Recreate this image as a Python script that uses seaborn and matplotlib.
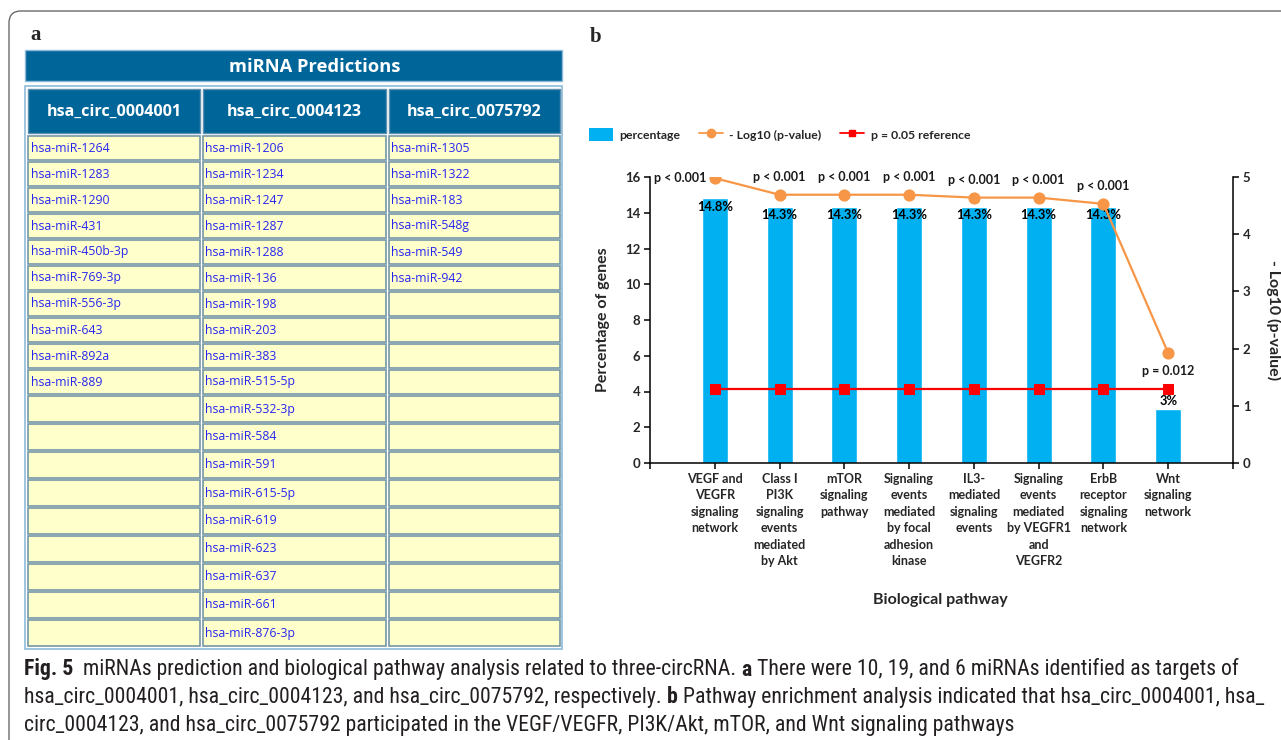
import numpy as np
import pandas as pd
import matplotlib
matplotlib.use("Agg")
import matplotlib.pyplot as plt
from matplotlib.patches import Rectangle, FancyBboxPatch, Patch
from matplotlib.lines import Line2D
import seaborn as sns

# ---------------- data ----------------
circ_ids = ["hsa_circ_0004001", "hsa_circ_0004123", "hsa_circ_0075792"]
mirna_0004001 = ["hsa-miR-1264", "hsa-miR-1283", "hsa-miR-1290", "hsa-miR-431",
                 "hsa-miR-450b-3p", "hsa-miR-769-3p", "hsa-miR-556-3p", "hsa-miR-643",
                 "hsa-miR-892a", "hsa-miR-889"]
mirna_0004123 = ["hsa-miR-1206", "hsa-miR-1234", "hsa-miR-1247", "hsa-miR-1287",
                 "hsa-miR-1288", "hsa-miR-136", "hsa-miR-198", "hsa-miR-203",
                 "hsa-miR-383", "hsa-miR-515-5p", "hsa-miR-532-3p", "hsa-miR-584",
                 "hsa-miR-591", "hsa-miR-615-5p", "hsa-miR-619", "hsa-miR-623",
                 "hsa-miR-637", "hsa-miR-661", "hsa-miR-876-3p"]
mirna_0075792 = ["hsa-miR-1305", "hsa-miR-1322", "hsa-miR-183", "hsa-miR-548g",
                 "hsa-miR-549", "hsa-miR-942"]

pathways = ["VEGF and\nVEGFR\nsignaling\nnetwork",
            "Class I\nPI3K\nsignaling\nevents\nmediated\nby Akt",
            "mTOR\nsignaling\npathway",
            "Signaling\nevents\nmediated\nby focal\nadhesion\nkinase",
            "IL3-\nmediated\nsignaling\nevents",
            "Signaling\nevents\nmediated\nby VEGFR1\nand\nVEGFR2",
            "ErbB\nreceptor\nsignaling\nnetwork",
            "Wnt\nsignaling\nnetwork"]
percentage = [14.8, 14.3, 14.3, 14.3, 14.3, 14.3, 14.3, 3]
neg_log10_p = [4.98, 4.69, 4.69, 4.69, 4.64, 4.64, 4.53, 1.92]
p_text = ["p < 0.001"] * 7 + ["p = 0.012"]
p_reference = 0.05

caption_lines = [
    [("Fig. 5", True), ("  miRNAs prediction and biological pathway analysis related to three-circRNA. ", False),
     ("a", True), (" There were 10, 19, and 6 miRNAs identified as targets of", False)],
    [("hsa_circ_0004001, hsa_circ_0004123, and hsa_circ_0075792, respectively. ", False),
     ("b", True), (" Pathway enrichment analysis indicated that hsa_circ_0004001, hsa_", False)],
    [("circ_0004123, and hsa_circ_0075792 participated in the VEGF/VEGFR, PI3K/Akt, mTOR, and Wnt signaling pathways", False)],
]

# ---------------- colours ----------------
BAR = "#00B0F0"
ORANGE = "#F79646"
RED = "#FF0000"
HEAD_BLUE = "#00669A"
CELL_FILL = "#FFFFCC"
CELL_EDGE = "#7597A5"
CELL_TEXT = "#2626F0"

sns.set_style("white")
plt.rcParams["font.family"] = ["Lato", "DejaVu Sans"]

W, H = 1281, 740
fig = plt.figure(figsize=(W / 100, H / 100), dpi=100)
fig.patch.set_facecolor("white")

# full-figure canvas in pixel units for frame, table and caption
bg = fig.add_axes([0, 0, 1, 1])
bg.set_xlim(0, W)
bg.set_ylim(H, 0)
bg.axis("off")

bg.add_patch(FancyBboxPatch((9, 11), 1500, 1000, boxstyle="round,pad=0,rounding_size=12",
                            fill=False, ec="#6b6b6b", lw=1.0))

serif = ["Liberation Serif", "DejaVu Serif"]
bg.text(30, 35, "a", family=serif, weight="bold", size=15, va="center", ha="left")
bg.text(590, 37, "b", family=serif, weight="bold", size=15, va="center", ha="left")

# ---------------- panel a: miRNA table ----------------
tfont = ["Open Sans", "DejaVu Sans"]
bg.add_patch(Rectangle((25, 50), 537, 31, fc=HEAD_BLUE, ec="#8dbad8", lw=1))
bg.text(315, 67, "miRNA Predictions", family=tfont, weight="bold", size=13.2,
        color="white", ha="center", va="center")
bg.add_patch(Rectangle((25, 86), 537, 563, fill=False, ec="#8dbad8", lw=1.2))

col_bounds = [(28, 200), (203, 386), (389, 560)]
for (x0, x1), cid in zip(col_bounds, circ_ids):
    bg.add_patch(Rectangle((x0, 89), x1 - x0, 44, fc=HEAD_BLUE, ec="#5d8fae", lw=1))
    bg.text((x0 + x1) / 2, 112, cid, family=tfont, weight="bold", size=11.6,
            color="white", ha="center", va="center")

columns = [mirna_0004001, mirna_0004123, mirna_0075792]
n_rows = max(len(c) for c in columns)
row_heights = [26] * 10 + [28] * (n_rows - 10)
top = 135
for r in range(n_rows):
    h = row_heights[r]
    for (x0, x1), col in zip(col_bounds, columns):
        bg.add_patch(Rectangle((x0, top + 1), x1 - x0, h - 2.5, fc=CELL_FILL,
                               ec=CELL_EDGE, lw=1.2))
        if r < len(col):
            bg.text(x0 + 2.5, top + h / 2, col[r], family=tfont, size=8.8,
                    color=CELL_TEXT, ha="left", va="center")
    top += h

# ---------------- panel b: pathway chart ----------------
df = pd.DataFrame({"pathway": pathways, "percentage": percentage,
                   "neg_log10_p": neg_log10_p, "pos": np.arange(len(pathways))})
df["reference"] = -np.log10(p_reference)

ax = fig.add_axes([650 / W, (H - 463) / H, 583 / W, 286 / H])
sns.barplot(data=df, x="pathway", y="percentage", color=BAR, saturation=1,
            width=0.4, ax=ax, zorder=2)
ax2 = ax.twinx()
sns.lineplot(data=df, x="pos", y="neg_log10_p", ax=ax2, color=ORANGE, lw=1.6,
             marker="o", markersize=8, markeredgecolor=ORANGE, legend=False, zorder=3)
sns.lineplot(data=df, x="pos", y="reference", ax=ax2, color=RED, lw=1.6,
             marker="s", markersize=6.5, markeredgecolor=RED, legend=False, zorder=3)

ax.set_ylim(0, 16)
ax2.set_ylim(0, 5)
ax.set_yticks(np.arange(0, 17, 2))
ax2.set_yticks(np.arange(0, 6, 1))
ax.set_xticks(np.arange(-1, len(pathways) + 1))
ax.set_xticklabels([""] + pathways + [""], fontweight="bold", fontsize=9, linespacing=1.45)
ax.set_xlim(-1, len(pathways))

for a in (ax, ax2):
    for s in a.spines.values():
        s.set_color("black")
        s.set_linewidth(1.1)
ax.spines["top"].set_visible(False)
ax.spines["right"].set_visible(False)
for s in ("top", "left", "bottom"):
    ax2.spines[s].set_visible(False)

ax.tick_params(axis="both", direction="out", length=4, width=1.1, color="black",
               labelsize=9, pad=3, left=True, bottom=True)
ax.tick_params(axis="y", labelsize=9.5)
ax2.tick_params(axis="y", direction="out", length=4, width=1.1, color="black",
                labelsize=9.5, pad=3, right=True)
for lab in ax.get_yticklabels() + ax2.get_yticklabels():
    lab.set_fontweight("bold")

ax.set_xlabel("Biological pathway", fontweight="bold", fontsize=11.5)
ax.xaxis.set_label_coords(0.498, -0.455)
ax.set_ylabel("Percentage of genes", fontweight="bold", fontsize=11.5)
ax.yaxis.set_label_coords(-0.068, 0.5)
ax2.set_ylabel("- Log10 (p-value)", fontweight="bold", fontsize=11.5, rotation=-90)
ax2.yaxis.set_label_coords(1.083, 0.5)
ax.grid(False)
ax2.grid(False)

# percentage labels on the bars
for i, v in enumerate(percentage):
    if v > 5:
        ax.annotate(f"{v:g}%", xy=(i, v), xytext=(0, -1.5), textcoords="offset points",
                    ha="center", va="top", fontsize=9.3, fontweight="bold", color="black")
    else:
        ax.annotate(f"{v:g}%", xy=(i, v), xytext=(0, 2), textcoords="offset points",
                    ha="center", va="bottom", fontsize=9.3, fontweight="bold", color="black")

# p-value labels next to the -log10 points
for i, (v, t) in enumerate(zip(neg_log10_p, p_text)):
    if i == 0:
        off, ha = (-6, 0), "right"
    elif i == len(p_text) - 1:
        off, ha = (0, -13), "center"
    else:
        off, ha = (0, 13), "center"
    ax2.annotate(t, xy=(i, v), xytext=off, textcoords="offset points", ha=ha,
                 va="center", fontsize=9, fontweight="bold", color="#1a1a1a",
                 annotation_clip=False)

handles = [Patch(fc=BAR, ec="none"),
           Line2D([0], [0], color=ORANGE, lw=1.3, marker="o", markersize=6),
           Line2D([0], [0], color=RED, lw=1.3, marker="s", markersize=4.5)]
fig.legend(handles, ["percentage", "- Log10 (p-value)", "p = 0.05 reference"],
           loc="center left", bbox_to_anchor=(589 / W, (H - 134.5) / H), ncol=3,
           frameon=False, handlelength=2.0, handleheight=1.2, handletextpad=0.5,
           columnspacing=1.5, borderpad=0, borderaxespad=0,
           prop={"weight": "bold", "size": 8.8})

# ---------------- caption ----------------
cap_font = ["Liberation Sans Narrow", "Roboto Condensed", "Noto Sans Condensed",
            "Noto Sans", "Liberation Sans"]
renderer = fig.canvas.get_renderer()


def seg_width(txt, bold, size):
    kw = dict(family=cap_font, size=size, stretch="condensed",
              weight="bold" if bold else "normal")
    t = bg.text(0, 0, "|" + txt + "|", **kw)
    w = t.get_window_extent(renderer).width
    t.remove()
    t = bg.text(0, 0, "||", **kw)
    w -= t.get_window_extent(renderer).width
    t.remove()
    return w


base = 12
line1_w = sum(seg_width(t, b, base) for t, b in caption_lines[0])
cap_size = base * (1238 - 24) / line1_w

for line, y in zip(caption_lines, (675.5, 703, 730.5)):
    x = 24
    for txt, bold in line:
        bg.text(x, y, txt, family=cap_font, size=cap_size, stretch="condensed",
                weight="bold" if bold else "normal", color="#231F20",
                ha="left", va="baseline")
        x += seg_width(txt, bold, cap_size)

fig.savefig("out.png", dpi=100)
